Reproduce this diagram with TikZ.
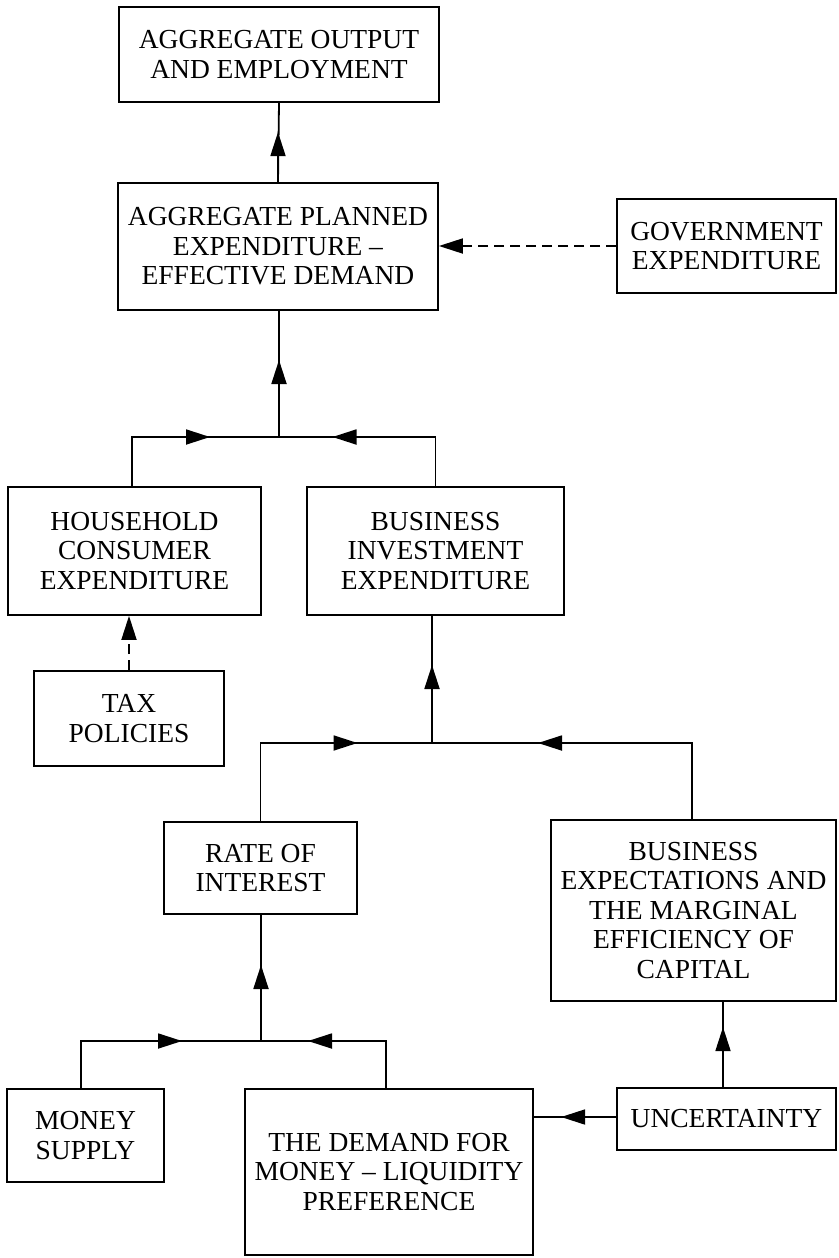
\documentclass[tikz,border=0pt]{standalone}
\usepackage{fontspec}
\setmainfont{Liberation Serif}
\usetikzlibrary{arrows.meta}
\begin{document}
\begin{tikzpicture}[x=1pt,y=-1pt,
  box/.style={draw, line width=1.8pt, rectangle, align=center,
    font=\fontsize{27.5}{29.5}\selectfont, inner sep=0pt},
  ln/.style={line width=1.8pt},
  tip/.style={line width=1.8pt, -{Triangle[length=24pt,width=15pt]}},
  dsh/.style={dash pattern=on 10pt off 6pt}]
\useasboundingbox (0,0) rectangle (838,1258);

\node[box, minimum width=320pt, minimum height=95pt] (out) at (279,54.5) {AGGREGATE OUTPUT\\AND EMPLOYMENT};
\node[box, minimum width=320pt, minimum height=127pt] (plan) at (278,246.5) {AGGREGATE PLANNED\\EXPENDITURE --\\EFFECTIVE DEMAND};
\node[box, minimum width=219pt, minimum height=94pt] (gov) at (726.5,246) {GOVERNMENT\\EXPENDITURE};
\node[box, minimum width=253pt, minimum height=128pt] (hh) at (134.5,551) {HOUSEHOLD\\CONSUMER\\EXPENDITURE};
\node[box, minimum width=257pt, minimum height=128pt] (bi) at (435.5,551) {BUSINESS\\INVESTMENT\\EXPENDITURE};
\node[box, minimum width=190pt, minimum height=95pt] (tax) at (129,718.5) {TAX\\POLICIES};
\node[box, minimum width=193pt, minimum height=92pt] (rate) at (260.5,868) {RATE OF\\INTEREST};
\node[box, minimum width=285pt, minimum height=181pt] (be) at (693.5,910.5) {BUSINESS\\EXPECTATIONS AND\\THE MARGINAL\\EFFICIENCY OF\\CAPITAL};
\node[box, minimum width=157pt, minimum height=93pt] (money) at (85.5,1135.5) {MONEY\\SUPPLY};
\node[box, minimum width=288pt, minimum height=166pt] (demand) at (389,1172) {THE DEMAND FOR\\MONEY -- LIQUIDITY\\PREFERENCE};
\node[box, minimum width=219pt, minimum height=62pt] (unc) at (726.5,1119) {UNCERTAINTY};

% attachment points on the boxes
\coordinate (hhN) at ([xshift=-2.5pt]hh.north);
\coordinate (moN) at ([xshift=-4.5pt]money.north);
\coordinate (deN) at ([xshift=-3pt]demand.north);
\coordinate (beN) at ([xshift=-1.5pt]be.north);
\coordinate (unN) at ([xshift=-3.5pt]unc.north);
\coordinate (unW) at ([yshift=2pt]unc.west);

% planned -> output
\draw[ln] (plan.north) -- (out.south);
\draw[tip] (plan.north) -- ++(0,-50);

% government -> planned
\draw[tip,dsh] (gov.west) -- (gov.west -| plan.east);

% household + business -> planned
\coordinate (j1) at (279,437);
\draw[ln] (hhN) |- (j1) -| (bi.north);
\draw[tip] (hhN |- j1) -- ++(78,0);
\draw[tip] (bi.north |- j1) -- ++(-103,0);
\draw[ln] (j1) -- (j1 |- plan.south);
\draw[tip] (j1) -- ++(0,-77);

% tax -> household
\draw[tip,dsh] (tax.north) -- (tax.north |- hh.south);

% rate + expectations -> investment
\coordinate (j2) at (432,743);
\draw[ln] (rate.north) |- (j2) -| (beN);
\draw[tip] (rate.north |- j2) -- ++(97,0);
\draw[tip] (beN |- j2) -- ++(-154,0);
\draw[ln] (j2) -- (j2 |- bi.south);
\draw[tip] (j2) -- ++(0,-78);

% money supply + demand -> rate
\coordinate (j3) at (261,1041);
\draw[ln] (moN) |- (j3) -| (deN);
\draw[tip] (moN |- j3) -- ++(101,0);
\draw[tip] (deN |- j3) -- ++(-78,0);
\draw[ln] (j3) -- (j3 |- rate.south);
\draw[tip] (j3) -- ++(0,-76);

% uncertainty -> expectations, demand
\draw[ln] (unN) -- (unN |- be.south);
\draw[tip] (unN) -- ++(0,-60);
\draw[ln] (unW) -- (unW -| demand.east);
\draw[tip] (unW) -- ++(-55,0);
\end{tikzpicture}
\end{document}
